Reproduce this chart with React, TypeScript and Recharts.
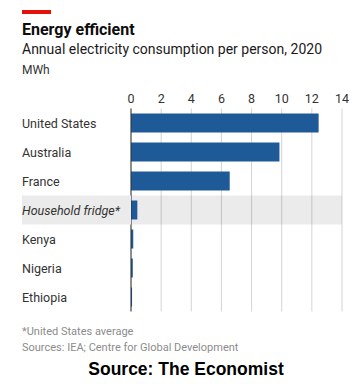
import React from 'react';
import {
  BarChart, Bar, XAxis, YAxis, CartesianGrid, ReferenceArea,
} from 'recharts';

const categories = ['United States', 'Australia', 'France', 'Household fridge*', 'Kenya', 'Nigeria', 'Ethiopia'];
const values = [12.45, 9.85, 6.55, 0.42, 0.15, 0.12, 0.07];
const xTicks = [0, 2, 4, 6, 8, 10, 12, 14];
const highlight = 'Household fridge*';

const data = categories.map((name, i) => ({ name, value: values[i] }));

const FONT = 'Roboto, "Noto Sans", sans-serif';
const CHART_W = 358;
const CHART_H = 320;
const MARGIN = { top: 0, right: 16, bottom: 8.5, left: 0 };
const X_AXIS_H = 108.5;
const Y_AXIS_W = 131;
const ROW_H = (CHART_H - MARGIN.top - MARGIN.bottom - X_AXIS_H) / categories.length;

function CategoryTick(props: any) {
  const { y, payload } = props;
  const isHi = payload.value === highlight;
  return (
    <g>
      {isHi && (
        <rect x={22} y={y - ROW_H / 2} width={Y_AXIS_W - 22} height={ROW_H} fill="#ebebeb" />
      )}
      <text
        x={22}
        y={y}
        dy={4.5}
        textAnchor="start"
        fontSize={12.5}
        fontFamily={FONT}
        fontStyle={isHi ? 'italic' : 'normal'}
        fill="#333"
      >
        {payload.value}
      </text>
    </g>
  );
}

function ValueTick(props: any) {
  const { x, payload } = props;
  return (
    <text x={x} y={X_AXIS_H - 5.5} textAnchor="middle" fontSize={12.5} fontFamily={FONT} fill="#333">
      {payload.value}
    </text>
  );
}

export default function App() {
  return (
    <div style={{ position: 'absolute', left: 0, top: 0, width: 358, height: 384, background: '#fff', fontFamily: FONT }}>
      {/* red tag */}
      <div style={{ position: 'absolute', left: 22, top: 10, width: 29, height: 3.5, background: '#e3120b' }} />
      <div style={{ position: 'absolute', left: 22, top: 20, fontSize: 16, fontWeight: 700, color: '#0d0d0d' }}>
        Energy efficient
      </div>
      <div style={{ position: 'absolute', left: 22, top: 41, fontSize: 14, color: '#1a1a1a' }}>
        Annual electricity consumption per person, 2020
      </div>
      <div style={{ position: 'absolute', left: 22, top: 63, fontSize: 12, color: '#333' }}>
        MWh
      </div>

      <div style={{ position: 'absolute', left: 0, top: 0 }}>
        <BarChart width={CHART_W} height={CHART_H} data={data} layout="vertical" margin={MARGIN}>
          <CartesianGrid horizontal={false} stroke="#d4d4d4" />
          <ReferenceArea y1={highlight} y2={highlight} x1={0} x2={14} fill="#000" fillOpacity={0.08} stroke="none" />
          <XAxis
            type="number"
            orientation="top"
            domain={[0, 14]}
            ticks={xTicks}
            height={X_AXIS_H}
            axisLine={false}
            tickLine={false}
            tick={<ValueTick />}
            interval={0}
          />
          <YAxis
            type="category"
            dataKey="name"
            width={Y_AXIS_W}
            axisLine={{ stroke: '#333', strokeWidth: 1 }}
            tickLine={false}
            tick={<CategoryTick />}
            interval={0}
          />
          <Bar dataKey="value" fill="#1f5a98" barSize={19} isAnimationActive={false} />
        </BarChart>
      </div>

      <div style={{ position: 'absolute', left: 22, top: 325, fontSize: 11, color: '#8c8c8c' }}>
        *United States average
      </div>
      <div style={{ position: 'absolute', left: 22, top: 341, fontSize: 11, color: '#8c8c8c' }}>
        Sources: IEA; Centre for Global Development
      </div>
      <div style={{ position: 'absolute', left: 0, width: 372, top: 359, textAlign: 'center', fontFamily: '"Liberation Sans", Arial, sans-serif', fontSize: 17.5, fontWeight: 700, color: '#000' }}>
        Source: The Economist
      </div>
    </div>
  );
}
